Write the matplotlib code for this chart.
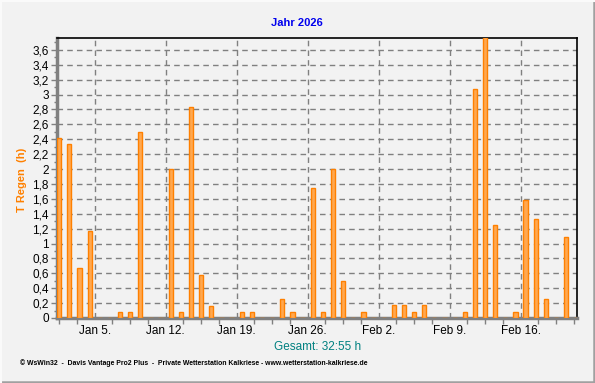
import numpy as np
import pandas as pd
import matplotlib
matplotlib.use("Agg")
import matplotlib.pyplot as plt
import matplotlib.dates as mdates
from matplotlib.ticker import FixedLocator, FuncFormatter, MultipleLocator
from matplotlib.lines import Line2D

# daily rain duration (hours), Jan 1 .. Feb 21 2026
days = pd.date_range("2026-01-01", "2026-02-21", freq="D")
rain_hours = [
    2.42, 2.34, 0.67, 1.17, 0.0, 0.0, 0.08, 0.08, 2.50, 0.0,
    0.0, 2.00, 0.08, 2.84, 0.58, 0.16, 0.0, 0.0, 0.08, 0.08,
    0.0, 0.0, 0.25, 0.08, 0.0, 1.75, 0.08, 2.00, 0.50, 0.0,
    0.08, 0.0, 0.0, 0.17, 0.17, 0.08, 0.17, 0.0, 0.0, 0.0,
    0.08, 3.08, 3.77, 1.25, 0.0, 0.08, 1.58, 1.33, 0.25, 0.0,
    1.09, 0.0,
]
week_ticks = pd.to_datetime(["2026-01-05", "2026-01-12", "2026-01-19", "2026-01-26",
                             "2026-02-02", "2026-02-09", "2026-02-16"])
title = "Jahr 2026"
ylabel = "T Regen  (h)"
total_text = "Gesamt: 32:55 h"
footer = "© WsWin32  -  Davis Vantage Pro2 Plus  -  Private Wetterstation Kalkriese - www.wetterstation-kalkriese.de"

plt.rcParams["font.family"] = ["Liberation Sans", "DejaVu Sans"]
bg = "#f2f2f2"

fig = plt.figure(figsize=(5.95, 3.83), dpi=100, facecolor=bg)
ax = fig.add_axes([57 / 595, 65 / 383, 520 / 595, 280 / 383], facecolor=bg)

start = mdates.date2num(days[0])
x = mdates.date2num(days) + 0.5
ax.bar(x, rain_hours, width=0.42, facecolor="#ffa850", edgecolor="#ff8000",
       linewidth=1.0, zorder=3)

ax.set_xlim(start + 0.28, start + 51.57)
ax.set_ylim(0, 3.76)

# grid and ticks
ax.xaxis.set_major_locator(FixedLocator(mdates.date2num(week_ticks)))
ax.xaxis.set_major_formatter(FuncFormatter(
    lambda v, p: "{:%b} {}.".format(mdates.num2date(v), mdates.num2date(v).day)))
ax.xaxis.set_minor_locator(FixedLocator(start + 4 + 1.75 * np.arange(-3, 28)))
ax.yaxis.set_major_locator(MultipleLocator(0.2))
ax.yaxis.set_minor_locator(MultipleLocator(0.1))
ax.yaxis.set_major_formatter(FuncFormatter(lambda v, p: "{:g}".format(round(v, 1)).replace(".", ",")))

ax.grid(True, which="major", color="#808080", linestyle=(0, (4, 3)), linewidth=1.0, zorder=1)
ax.tick_params(axis="both", which="both", colors="#808080", labelcolor="black", labelsize=8.5)
ax.tick_params(axis="x", which="major", length=0, pad=5)
ax.tick_params(axis="x", which="minor", length=4, width=1)
ax.tick_params(axis="y", which="major", length=4, width=1, pad=2)
ax.tick_params(axis="y", which="minor", length=2, width=1)

for side in ("left", "bottom"):
    ax.spines[side].set_color("#808080")
    ax.spines[side].set_linewidth(2.5)
for side in ("top", "right"):
    ax.spines[side].set_color("black")
    ax.spines[side].set_linewidth(1.2)

fig.text(297 / 595, 1 - 23 / 383, title, color="#0000ee", fontsize=8, fontweight="bold",
         ha="center", va="center")
fig.text(22 / 595, 1 - 180 / 383, ylabel, color="#ff8000", fontsize=8, fontweight="bold",
         rotation=90, ha="center", va="center")
fig.text(318 / 595, 1 - 347 / 383, total_text, color="#008080", fontsize=8.5,
         ha="center", va="center")
fig.text(20 / 595, 1 - 363 / 383, footer, color="black", fontsize=4.95, fontweight="bold",
         ha="left", va="center")

# window border: gray on right and bottom, light on top and left
fig.add_artist(Line2D([0.999, 0.999], [0, 1], transform=fig.transFigure, color="#a0a0a0", linewidth=1.8))
fig.add_artist(Line2D([0, 1], [0.002, 0.002], transform=fig.transFigure, color="#a0a0a0", linewidth=1.8))
fig.add_artist(Line2D([0.001, 0.001], [0, 1], transform=fig.transFigure, color="#fafafa", linewidth=1.5))
fig.add_artist(Line2D([0, 1], [0.998, 0.998], transform=fig.transFigure, color="#fafafa", linewidth=1.5))

fig.savefig("out.png", dpi=100, facecolor=bg)
